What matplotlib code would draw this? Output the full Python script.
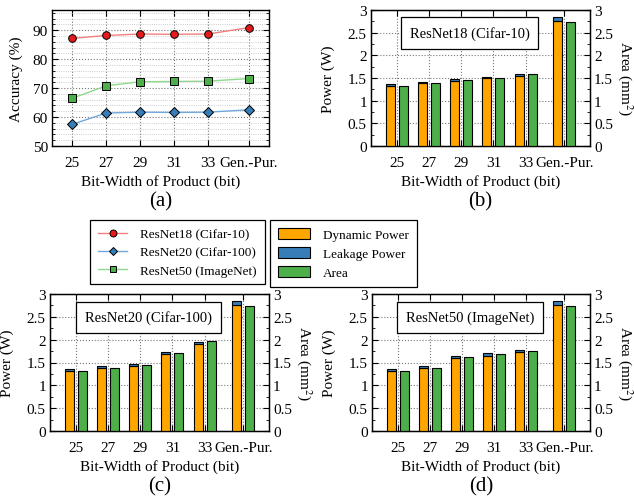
import matplotlib
matplotlib.use("Agg")
import matplotlib.pyplot as plt
import numpy as np
from matplotlib.lines import Line2D
from matplotlib.patches import Patch
from matplotlib.ticker import MultipleLocator

plt.rcParams["font.family"] = ["Liberation Serif", "DejaVu Serif"]
plt.rcParams["font.size"] = 11
plt.rcParams["mathtext.fontset"] = "stix"

bit_labels = ["25", "27", "29", "31", "33", "Gen.-Pur."]
x_pos = np.array([0, 1, 2, 3, 4, 5.2])

acc_resnet18 = [87.2, 88.2, 88.7, 88.6, 88.7, 90.9]
acc_resnet20 = [57.5, 61.4, 61.7, 61.6, 61.7, 62.5]
acc_resnet50 = [66.5, 70.8, 72.2, 72.3, 72.4, 73.3]

dyn_resnet18 = [1.32, 1.38, 1.43, 1.49, 1.55, 2.76]
leak_resnet18 = [0.04, 0.04, 0.04, 0.04, 0.04, 0.09]
area_resnet18 = [1.32, 1.38, 1.45, 1.51, 1.58, 2.74]

dyn_resnet20 = [1.32, 1.38, 1.43, 1.68, 1.90, 2.76]
leak_resnet20 = [0.04, 0.04, 0.04, 0.05, 0.05, 0.09]
area_resnet20 = [1.32, 1.38, 1.45, 1.70, 1.96, 2.74]

dyn_resnet50 = [1.32, 1.38, 1.60, 1.65, 1.72, 2.76]
leak_resnet50 = [0.04, 0.04, 0.05, 0.05, 0.05, 0.09]
area_resnet50 = [1.32, 1.38, 1.62, 1.68, 1.75, 2.74]

c_red, c_blue, c_green, c_orange = "#e41a1c", "#377eb8", "#4daf4a", "#ffa500"

W, H = 634, 502
fig = plt.figure(figsize=(W / 100, H / 100), dpi=100)


def px_axes(left, top, right, bottom):
    return fig.add_axes([left / W, 1 - bottom / H, (right - left) / W, (bottom - top) / H])


def style_ticks(ax):
    ax.tick_params(direction="in", which="both", top=True, right=True, labelsize=11, pad=3)
    ax.tick_params(which="major", length=4)
    ax.tick_params(which="minor", length=2.5)
    ax.tick_params(axis="x", which="both", pad=7)
    for s in ax.spines.values():
        s.set_linewidth(1.0)


# (a) accuracy
ax = px_axes(52, 11, 269, 147)
series = [(acc_resnet18, c_red, "o", "#f08080"), (acc_resnet20, c_blue, "D", "#6fa8dc"),
          (acc_resnet50, c_green, "s", "#8fd88c")]
for vals, col, mk, lc in series:
    ax.plot(x_pos, vals, color=lc, lw=1.0, marker=mk, ms=5.5 if mk != "D" else 5,
            mfc=col, mec="black", mew=0.7, zorder=3)
ax.set_xlim(-0.6, 5.8)
ax.set_ylim(50, 97)
ax.yaxis.set_major_locator(MultipleLocator(10))
ax.yaxis.set_minor_locator(MultipleLocator(2))
ax.set_xticks(x_pos, bit_labels)
ax.grid(True, which="major", ls=":", color="#777777", lw=0.8)
ax.grid(True, which="minor", axis="y", ls=":", color="#bbbbbb", lw=0.6)
ax.set_ylabel("Accuracy (%)", labelpad=7)
ax.set_xlabel("Bit-Width of Product (bit)", labelpad=3.5)
style_ticks(ax)
ax.text(0.5, -0.33, "(a)", transform=ax.transAxes, ha="center", va="top", fontsize=15)

bar_w = 0.28
off = 0.2


def bar_panel(box, dyn, leak, area, title, tag):
    ax = px_axes(*box)
    ax.bar(x_pos - off, dyn, bar_w, color=c_orange, edgecolor="black", lw=0.8, zorder=3)
    ax.bar(x_pos - off, leak, bar_w, bottom=dyn, color=c_blue, edgecolor="black", lw=0.8, zorder=3)
    ax.bar(x_pos + off, area, bar_w, color=c_green, edgecolor="black", lw=0.8, zorder=3)
    ax.set_xlim(-0.8, 6.0)
    ax.set_ylim(0, 3)
    ax.yaxis.set_minor_locator(MultipleLocator(0.25))
    ax.set_yticks([0, 0.5, 1, 1.5, 2, 2.5, 3], ["0", "0.5", "1", "1.5", "2", "2.5", "3"])
    ax.set_xticks(x_pos, bit_labels)
    ax.grid(True, which="major", ls=":", color="#777777", lw=0.8, zorder=0)
    ax.set_ylabel("Power (W)", labelpad=9)
    ax.set_xlabel("Bit-Width of Product (bit)", labelpad=3.5)
    style_ticks(ax)
    ax.tick_params(right=False, which="both")
    ax2 = ax.twinx()
    ax2.set_ylim(0, 3)
    ax2.set_yticks([0, 0.5, 1, 1.5, 2, 2.5, 3], ["0", "0.5", "1", "1.5", "2", "2.5", "3"])
    ax2.yaxis.set_minor_locator(MultipleLocator(0.25))
    ax2.tick_params(direction="in", which="both", labelsize=11, pad=3)
    ax2.tick_params(which="major", length=4)
    ax2.tick_params(which="minor", length=2.5)
    ax2.set_ylabel("Area (mm$^2$)", rotation=270, labelpad=16)
    ax.text(0.45, 0.83, title, transform=ax.transAxes, ha="center", va="center", fontsize=10.5,
            bbox=dict(boxstyle="square,pad=0.6", fc="white", ec="black", lw=0.9), zorder=5)
    ax.text(0.5, -0.33, tag, transform=ax.transAxes, ha="center", va="top", fontsize=15)


bar_panel((371, 11, 590, 147), dyn_resnet18, leak_resnet18, area_resnet18, "ResNet18 (Cifar-10)", "(b)")
bar_panel((50, 295, 269, 432), dyn_resnet20, leak_resnet20, area_resnet20, "ResNet20 (Cifar-100)", "(c)")
bar_panel((372, 295, 590, 432), dyn_resnet50, leak_resnet50, area_resnet50, "ResNet50 (ImageNet)", "(d)")

# legends
line_handles = [
    Line2D([], [], color="#f08080", lw=1.0, marker="o", ms=5, mfc=c_red, mec="black", mew=0.7),
    Line2D([], [], color="#6fa8dc", lw=1.0, marker="D", ms=4.5, mfc=c_blue, mec="black", mew=0.7),
    Line2D([], [], color="#8fd88c", lw=1.0, marker="s", ms=4.5, mfc=c_green, mec="black", mew=0.7),
]
line_names = ["ResNet18 (Cifar-10)", "ResNet20 (Cifar-100)", "ResNet50 (ImageNet)"]
leg1 = fig.legend(line_handles, line_names, loc="upper right", bbox_to_anchor=(265 / W, 1 - 221 / H),
                  fancybox=False, edgecolor="black", framealpha=1, fontsize=9.5,
                  handlelength=2.2, labelspacing=0.45, borderpad=0.6, handletextpad=1.0,
                  borderaxespad=0)
leg1.get_frame().set_linewidth(0.9)

patch_handles = [Patch(fc=c_orange, ec="black", lw=0.8), Patch(fc=c_blue, ec="black", lw=0.8),
                 Patch(fc=c_green, ec="black", lw=0.8)]
patch_names = ["Dynamic Power", "Leakage Power", "Area"]
leg2 = fig.legend(patch_handles, patch_names, loc="upper left", bbox_to_anchor=(270 / W, 1 - 221 / H),
                  fancybox=False, edgecolor="black", framealpha=1, fontsize=9.5,
                  handlelength=2.4, handleheight=0.9, labelspacing=0.45, borderpad=0.6,
                  handletextpad=1.0, borderaxespad=0)
leg2.get_frame().set_linewidth(0.9)

fig.savefig("out.png", dpi=100)
